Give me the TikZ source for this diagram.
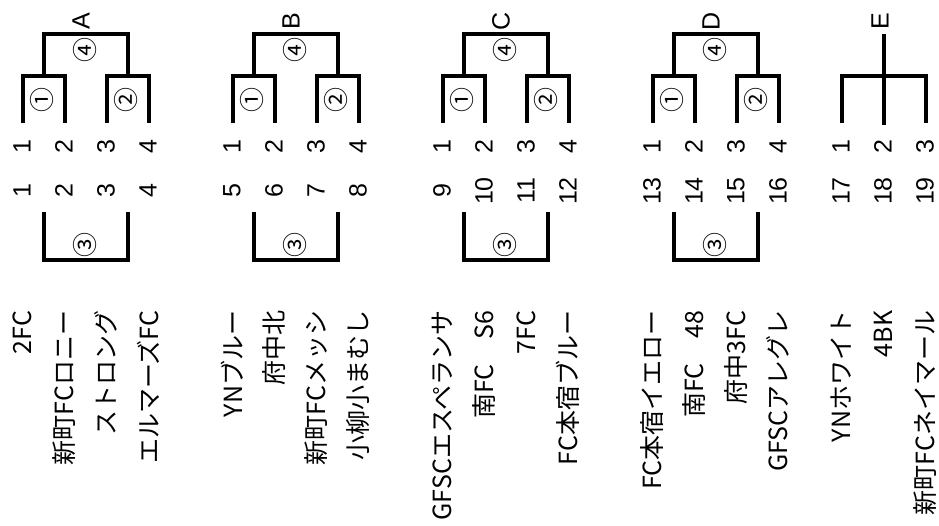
\documentclass[tikz,border=0pt]{standalone}
\usepackage{fontspec}
\setmainfont{Liberation Sans}
\newfontfamily\jp{Noto Sans CJK JP}
\begin{document}
\begin{tikzpicture}[x=1pt,y=-1pt,line width=3.3pt,
  nr/.style={rotate=90,inner sep=0pt,font=\fontsize{25}{25}\selectfont},
  kreis/.style={rotate=90,inner sep=0pt,font=\jp\fontsize{25}{25}\selectfont},
  team/.style={rotate=90,anchor=east,inner sep=0pt,font=\jp\fontsize{25}{25}\selectfont},
  gruppe/.style={rotate=90,inner sep=0pt,font=\fontsize{25}{25}\selectfont}]
\useasboundingbox (0,0) rectangle (939,525);
% Gruppe mit vier Mannschaften: x, Name, erste Nummer, Mannschaften
\def\vier#1#2#3#4#5#6#7{
	\draw ({#1},123) -- ({#1},76) -- ({#1+42},76) -- ({#1+42},123);
	\draw ({#1+84},123) -- ({#1+84},76) -- ({#1+126},76) -- ({#1+126},123);
	\draw ({#1+21},76) -- ({#1+21},34) -- ({#1+105},34) -- ({#1+105},76);
	\draw ({#1+21},212) -- ({#1+21},260) -- ({#1+105},260) -- ({#1+105},212);
	\node[gruppe] (#2) at ({#1+58},21) {#2};
	\node[kreis] (#2-s1) at ({#1+19},100) {①};
	\node[kreis] (#2-s2) at ({#1+103},100) {②};
	\node[kreis] (#2-s3) at ({#1+62},245) {③};
	\node[kreis] (#2-s4) at ({#1+62},50) {④};
	\foreach \k in {0,1,2,3}{
		\pgfmathtruncatemacro\n{\k+1}
		\pgfmathtruncatemacro\m{#3+\k}
		\node[nr] (#2-a\k) at ({#1+42*\k-1},147) {\n};
		\node[nr] (#2-b\k) at ({#1+42*\k-1},191) {\m};
	}
	\node[team] (#2-t0) at ({#1-1},309) {#4};
	\node[team] (#2-t1) at ({#1+41},309) {#5};
	\node[team] (#2-t2) at ({#1+83},309) {#6};
	\node[team] (#2-t3) at ({#1+125},309) {#7};
}
\vier{23}{A}{1}{2FC}{新町FCロニー}{ストロング}{エルマーズFC}
\vier{233}{B}{5}{YNブルー}{府中北}{新町FCメッシ}{小柳小まむし}
\vier{443}{C}{9}{GFSCエスペランサ}{南FC　S6}{7FC}{FC本宿ブルー}
\vier{653}{D}{13}{FC本宿イエロー}{南FC　48}{府中3FC}{GFSCアレグレ}
% Gruppe E mit drei Mannschaften
\draw (842,123) -- (842,76) -- (926,76) -- (926,123);
\draw (884,34) -- (884,125);
\node[gruppe] (E) at (880,21) {E};
\foreach \k in {0,1,2}{
	\pgfmathtruncatemacro\n{\k+1}
	\pgfmathtruncatemacro\m{17+\k}
	\node[nr] (E-a\k) at ({842+42*\k-1},147) {\n};
	\node[nr] (E-b\k) at ({842+42*\k-1},191) {\m};
}
\node[team] (E-t0) at (841,309) {YNホワイト};
\node[team] (E-t1) at (883,309) {4BK};
\node[team] (E-t2) at (925,309) {新町FCネイマール};
\end{tikzpicture}
\end{document}
